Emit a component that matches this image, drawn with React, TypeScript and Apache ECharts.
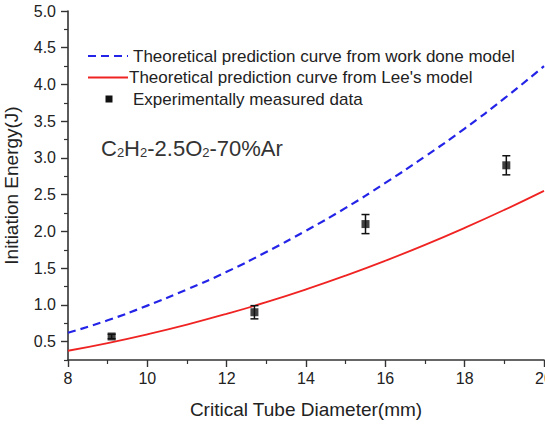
import React, { useEffect, useRef } from "react";
import * as echarts from "echarts";

// Theoretical curves, sampled at each millimetre of tube diameter
const diameters = [8, 9, 10, 11, 12, 13, 14, 15, 16, 17, 18, 19, 20];
const workDoneModel = [0.62, 0.79, 0.99, 1.21, 1.45, 1.72, 2.01, 2.32, 2.66, 3.02, 3.4, 3.81, 4.25];
const leeModel = [0.376, 0.481, 0.6, 0.732, 0.878, 1.037, 1.211, 1.399, 1.601, 1.817, 2.048, 2.293, 2.552];

// Experimental measurements with their error bars
const expDiameter = [9.1, 12.7, 15.5, 19.05];
const expEnergy = [0.57, 0.9, 2.1, 2.9];
const expError = [0.03, 0.09, 0.13, 0.13];

// Axis ticks
const yMajorTicks = [0.5, 1.0, 1.5, 2.0, 2.5, 3.0, 3.5, 4.0, 4.5, 5.0];
const yMinorTicks = [0.25, 0.75, 1.25, 1.75, 2.25, 2.75, 3.25, 3.75, 4.25, 4.75];

const legendLabels = [
  "Theoretical prediction curve from work done model",
  "Theoretical prediction curve from Lee's model",
  "Experimentally measured data",
];

const FONT = "'Liberation Sans', Arial, sans-serif";
const BLUE = "#2424e8";
const RED = "#f02323";
const AXIS = "#333333";

export default function App() {
  const ref = useRef<HTMLDivElement>(null);

  useEffect(() => {
    if (!ref.current) return;
    const chart = echarts.init(ref.current, null, { renderer: "svg" });

    const blueData = diameters.map((d, i) => [d, workDoneModel[i]]);
    const redData = diameters.map((d, i) => [d, leeModel[i]]);
    const pointData = expDiameter.map((d, i) => [d, expEnergy[i]]);
    const errData = expDiameter.map((d, i) => [d, expEnergy[i] - expError[i], expEnergy[i] + expError[i]]);

    chart.setOption({
      animation: false,
      backgroundColor: "#ffffff",
      textStyle: { fontFamily: FONT },
      grid: { left: 68, right: 1, top: 11, bottom: 64, containLabel: false, outerBoundsMode: "none" },
      xAxis: {
        type: "value",
        min: 8,
        max: 20,
        interval: 2,
        name: "Critical Tube Diameter(mm)",
        nameLocation: "middle",
        nameGap: 40,
        nameTextStyle: { fontSize: 19, color: "#222", fontFamily: FONT },
        axisLine: { show: true, onZero: false, lineStyle: { color: AXIS, width: 1.6 } },
        axisTick: { show: true, inside: false, length: 7, lineStyle: { color: AXIS, width: 1.4 } },
        minorTick: { show: true, splitNumber: 2, length: 4, lineStyle: { color: AXIS, width: 1.2 } },
        axisLabel: { fontSize: 16, color: "#222", margin: 10, fontFamily: FONT, hideOverlap: false },
        splitLine: { show: false },
      },
      yAxis: [
        {
          type: "value",
          min: 0.25,
          max: 5,
          name: "Initiation Energy(J)",
          nameLocation: "middle",
          nameGap: 47,
          nameTextStyle: { fontSize: 19, color: "#222", fontFamily: FONT },
          axisLine: { show: true, onZero: false, lineStyle: { color: AXIS, width: 1.6 } },
          axisTick: {
            show: true,
            inside: false,
            length: 7,
            customValues: yMajorTicks,
            lineStyle: { color: AXIS, width: 1.4 },
          },
          axisLabel: {
            fontSize: 16,
            color: "#222",
            margin: 12,
            fontFamily: FONT,
            customValues: yMajorTicks,
            formatter: (v: number) => v.toFixed(1),
          },
          splitLine: { show: false },
        },
        {
          type: "value",
          min: 0.25,
          max: 5,
          position: "left",
          axisLine: { show: false },
          axisTick: {
            show: true,
            inside: false,
            length: 4,
            customValues: yMinorTicks,
            lineStyle: { color: AXIS, width: 1.2 },
          },
          axisLabel: { show: false },
          splitLine: { show: false },
        },
      ],
      series: [
        {
          name: legendLabels[0],
          type: "line",
          data: blueData,
          smooth: true,
          showSymbol: false,
          lineStyle: { color: BLUE, width: 2.2, type: [8, 5] },
          z: 3,
        },
        {
          name: legendLabels[1],
          type: "line",
          data: redData,
          smooth: true,
          showSymbol: false,
          lineStyle: { color: RED, width: 1.8 },
          z: 3,
        },
        {
          name: "error",
          type: "custom",
          data: errData,
          z: 4,
          renderItem: (params: any, api: any) => {
            const x = api.value(0);
            const lo = api.coord([x, api.value(1)]);
            const hi = api.coord([x, api.value(2)]);
            const half = 4;
            const style = { stroke: "#111", lineWidth: 1.5 };
            return {
              type: "group",
              children: [
                { type: "line", shape: { x1: lo[0], y1: lo[1], x2: hi[0], y2: hi[1] }, style },
                { type: "line", shape: { x1: lo[0] - half, y1: lo[1], x2: lo[0] + half, y2: lo[1] }, style },
                { type: "line", shape: { x1: hi[0] - half, y1: hi[1], x2: hi[0] + half, y2: hi[1] }, style },
              ],
            };
          },
        },
        {
          name: legendLabels[2],
          type: "scatter",
          data: pointData,
          symbol: "rect",
          symbolSize: 8,
          itemStyle: { color: "#111" },
          z: 5,
        },
      ],
      graphic: [
        {
          type: "line",
          shape: { x1: 88, y1: 56, x2: 128, y2: 56 },
          style: { stroke: BLUE, lineWidth: 2.2, lineDash: [8, 5] },
        },
        {
          type: "text",
          x: 133,
          y: 56,
          style: { text: legendLabels[0], fontSize: 17, fill: "#222", fontFamily: FONT, verticalAlign: "middle" },
        },
        {
          type: "line",
          shape: { x1: 88, y1: 77.5, x2: 128, y2: 77.5 },
          style: { stroke: RED, lineWidth: 1.8 },
        },
        {
          type: "text",
          x: 129,
          y: 77.5,
          style: { text: legendLabels[1], fontSize: 17, fill: "#222", fontFamily: FONT, verticalAlign: "middle" },
        },
        {
          type: "rect",
          shape: { x: 105.5, y: 95.5, width: 7, height: 7 },
          style: { fill: "#111" },
        },
        {
          type: "text",
          x: 133,
          y: 99,
          style: { text: legendLabels[2], fontSize: 17, fill: "#222", fontFamily: FONT, verticalAlign: "middle" },
        },
        {
          type: "text",
          x: 101,
          y: 148,
          style: {
            text: "C{s|2}H{s|2}-2.5O{s|2}-70%Ar",
            fontSize: 22,
            fill: "#333",
            fontFamily: FONT,
            verticalAlign: "middle",
            rich: {
              s: { fontSize: 13, fill: "#333", fontFamily: FONT, padding: [9, 0, 0, 0] },
            },
          },
        },
      ],
    });

    return () => chart.dispose();
  }, []);

  return (
    <div
      ref={ref}
      style={{ position: "fixed", left: 0, top: 0, width: 545, height: 424, background: "#fff" }}
    />
  );
}
